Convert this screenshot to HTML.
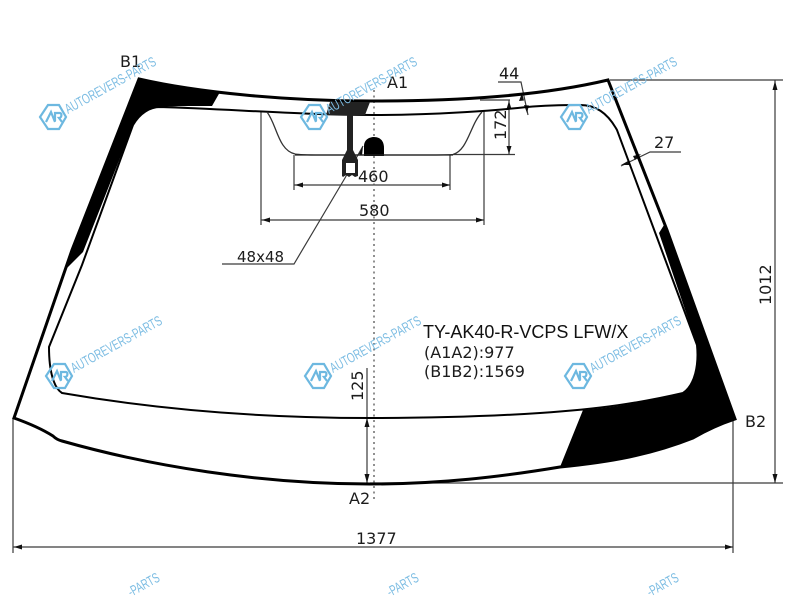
<!DOCTYPE html>
<html><head><meta charset="utf-8"><style>
html,body{margin:0;padding:0;background:#fff;width:800px;height:600px;overflow:hidden}
svg{display:block}
text{font-family:"DejaVu Sans",sans-serif;fill:#1c1c1c}
.w text{font-family:"Liberation Sans",sans-serif;fill:#7dbde3;font-size:14px}
.w path{fill:none;stroke:#6db8e0;stroke-width:2.2}
</style></head><body>
<svg width="800" height="600" viewBox="0 0 800 600" xmlns="http://www.w3.org/2000/svg">
<!-- thin dimension lines -->
<g fill="none" stroke="#3a3a3a" stroke-width="1.2">
<path d="M610 80H783M370 483H783M775 80V483"/>
<path d="M13 418V553M733 419V553M13 547H733" />
<path d="M261 111V225M484 111V225M261 220H484"/>
<path d="M294 155V190M450 155V190M294 185H450"/>
<path d="M222 264H294L345 178L363 146"/>
<path d="M480 100H510M453 154.500H515M509 100V154"/>
<path d="M498 82H521L528 115"/>
<path d="M681 152H650L621 166"/>
<path d="M367 368V483"/>
</g>
<path d="M374 90V500" stroke="#555" stroke-width="1.3" stroke-dasharray="2 3.500" fill="none"/>
<!-- arrowheads -->
<g fill="#111">
<path d="M775 81l-2.500 9h5zM775 483l-2.500-9h5z"/>
<path d="M14 547l8-2.500v5zM733 547l-8-2.500v5z"/>
<path d="M262 220l8-2.500v5zM484 220l-8-2.500v5z"/>
<path d="M295 185l8-2.500v5zM450 185l-8-2.500v5z"/>
<path d="M509 101l-2.500 8h5zM509 154l-2.500-8h5z"/>
<path d="M522 93l-3 8 5-.5zM527 113l-3-8 5 .5z"/>
<path d="M641 154l-8 2 2 4zM621 165l7-4 1.500 4z"/>
<path d="M367 418l-2.500 9h5zM367 483l-2.500-9h5z"/>
<path d="M363 146l-4 8 3 1.500z"/>
</g>
<!-- glass outlines -->
<path d="M139 79C200 93 290 101 370 101C460 101 540 96 608 80L667 230L735 419C720 424 705 431 693 438C650 455 610 462 560 467C500 477 440 484 370 484C260 484 150 466 62 441C58 440 55 438 53 436C42 429 28 423 14 418L72 250Z" fill="none" stroke="#000" stroke-width="3" stroke-linejoin="miter"/>
<path d="M160 107C230 109 300 115 374 115C440 115 500 110 527 107C550 105 565 105 580 105C595 105 607 112 617 130L697 345C699 365 695 385 683 393C640 403 600 409 540 413C480 417 420 418 370 418C260 418 160 410 62 393C54 388 49 372 49 347L82 265L133 125C140 113 150 107 160 107Z" fill="none" stroke="#000" stroke-width="2"/>
<!-- black corners -->
<path d="M139 79C165 86 190 90 220 92L212 106C190 106 170 106 160 107C150 107 140 113 133 125L83 252L65 270L72 250Z" fill="#000"/>
<path d="M659 233L664 225L735 419C720 424 705 431 693 438C650 455 610 462 560 467L583 410C620 407 655 400 683 393C695 385 699 365 697 345Z" fill="#000"/>
<!-- sensor area -->
<path d="M267 112C277 125 278 150 295 154C300 155 310 155 320 155H425C440 155 450 155 453 154.500C468 150 470 125 482 112" fill="none" stroke="#333" stroke-width="1.300"/>
<path d="M330 102L370 102L365 115L353 115L353 150L358 160V176L355 177L352 175L349 177L346 175L343 177L342 176V160L347 150V115L326 115Z" fill="#222"/>
<rect x="346" y="163" width="9" height="10" fill="#fff"/>
<path d="M364 156V146C364 140 369 137 374 137C381 137 384 142 384 148V156Z" fill="#000"/>
<path d="M295 155H453" stroke="#222" stroke-width="1.200"/>
<!-- labels -->
<g font-size="16">
<text x="120" y="67">B1</text>
<text x="387" y="88">A1</text>
<text x="745" y="427">B2</text>
<text x="349" y="504">A2</text>
<text x="499" y="79">44</text>
<text x="654" y="148">27</text>
<text x="358" y="182">460</text>
<text x="359" y="216">580</text>
<text x="237" y="262" font-size="15">48x48</text>
<text x="356" y="544">1377</text>
<text transform="translate(506 140) rotate(-90)">172</text>
<text transform="translate(771 305) rotate(-90)">1012</text>
<text transform="translate(363 401) rotate(-90)">125</text>
<text x="424" y="358">(A1A2):977</text>
<text x="424" y="377">(B1B2):1569</text>
</g>
<text x="423" y="338" font-size="18" style="font-family:'Liberation Sans',sans-serif;fill:#111">TY-AK40-R-VCPS LFW/X</text>
<!-- watermarks -->
<g class="w" transform="translate(53 117)"><path d="M-5-12H6L13 0L6 12H-5L-13 0Z"/><path d="M-7 5L-2-5L2 5M2 4V-4H7C9-4 9 1 6 1L9 5" stroke-width="1.300"/><text transform="translate(15 -3) rotate(-29)" textLength="102" lengthAdjust="spacingAndGlyphs">AUTOREVERS-PARTS</text></g>
<g class="w" transform="translate(314 117)"><path d="M-5-12H6L13 0L6 12H-5L-13 0Z"/><path d="M-7 5L-2-5L2 5M2 4V-4H7C9-4 9 1 6 1L9 5" stroke-width="1.300"/><text transform="translate(15 -3) rotate(-29)" textLength="102" lengthAdjust="spacingAndGlyphs">AUTOREVERS-PARTS</text></g>
<g class="w" transform="translate(574 117)"><path d="M-5-12H6L13 0L6 12H-5L-13 0Z"/><path d="M-7 5L-2-5L2 5M2 4V-4H7C9-4 9 1 6 1L9 5" stroke-width="1.300"/><text transform="translate(15 -3) rotate(-29)" textLength="102" lengthAdjust="spacingAndGlyphs">AUTOREVERS-PARTS</text></g>
<g class="w" transform="translate(59 376)"><path d="M-5-12H6L13 0L6 12H-5L-13 0Z"/><path d="M-7 5L-2-5L2 5M2 4V-4H7C9-4 9 1 6 1L9 5" stroke-width="1.300"/><text transform="translate(15 -3) rotate(-29)" textLength="102" lengthAdjust="spacingAndGlyphs">AUTOREVERS-PARTS</text></g>
<g class="w" transform="translate(318 376)"><path d="M-5-12H6L13 0L6 12H-5L-13 0Z"/><path d="M-7 5L-2-5L2 5M2 4V-4H7C9-4 9 1 6 1L9 5" stroke-width="1.300"/><text transform="translate(15 -3) rotate(-29)" textLength="102" lengthAdjust="spacingAndGlyphs">AUTOREVERS-PARTS</text></g>
<g class="w" transform="translate(578 376)"><path d="M-5-12H6L13 0L6 12H-5L-13 0Z"/><path d="M-7 5L-2-5L2 5M2 4V-4H7C9-4 9 1 6 1L9 5" stroke-width="1.300"/><text transform="translate(15 -3) rotate(-29)" textLength="102" lengthAdjust="spacingAndGlyphs">AUTOREVERS-PARTS</text></g>
<g class="w"><text transform="translate(131 597) rotate(-29)" textLength="34" lengthAdjust="spacingAndGlyphs">-PARTS</text></g>
<g class="w"><text transform="translate(390 597) rotate(-29)" textLength="34" lengthAdjust="spacingAndGlyphs">-PARTS</text></g>
<g class="w"><text transform="translate(650 597) rotate(-29)" textLength="34" lengthAdjust="spacingAndGlyphs">-PARTS</text></g>
</svg>
</body></html>
